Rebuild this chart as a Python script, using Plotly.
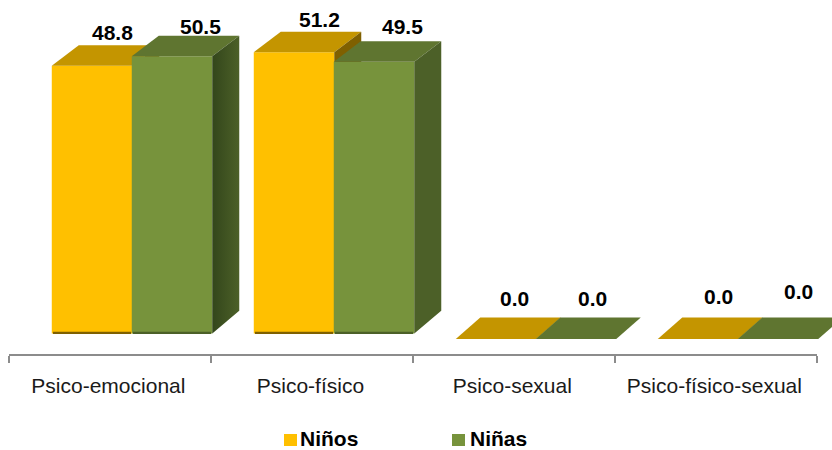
import plotly.graph_objects as go

categories = ["Psico-emocional", "Psico-físico", "Psico-sexual", "Psico-físico-sexual"]
ninos = [48.8, 51.2, 0.0, 0.0]
ninas = [50.5, 49.5, 0.0, 0.0]

# Layout constants (pixel geometry converted to data units)
W, H = 832, 450
L, R = 9, 817
AXIS_Y = 355
ZERO_Y = 339
PX_X = (R - L) / 4.0          # px per category
PX_Y = 5.6                    # px per value unit
FLOOR = 1.0                   # visible foot of the bars
BW = 80.5 / PX_X
OFFS = {"n": -0.089, "a": 0.307}


def px(p):
    return (p - L) / (W - L)


def py(p):
    return (AXIS_Y - p) / AXIS_Y


def depth(v):
    return (24.5 / PX_X, 21.5 / PX_Y) if v == 0 else (27 / PX_X, 20.5 / PX_Y)


series = [
    dict(name="Niños", vals=ninos, off=OFFS["n"], front="#FFC000", top="#C49500", side="#7F6000",
         dark="#7F6000", xa="x", ya="y"),
    dict(name="Niñas", vals=ninas, off=OFFS["a"], front="#77933C", top="#5F7530", side="#4C6028",
         dark="#33461B", xa="x2", ya="y2"),
]

fig = go.Figure()
for s in series:
    xs = [i + s["off"] for i in range(len(categories))]
    fig.add_trace(go.Bar(
        x=xs, y=[v - FLOOR if v > 0 else None for v in s["vals"]], base=FLOOR, width=BW,
        name=s["name"], marker=dict(color=s["front"], line=dict(width=0)),
        xaxis=s["xa"], yaxis=s["ya"], showlegend=False, hoverinfo="skip"))
    # darker foot of each bar
    fig.add_trace(go.Bar(
        x=xs, y=[0.4 if v > 0 else None for v in s["vals"]], base=FLOOR - 0.1, width=BW - 0.012,
        marker=dict(color=s["side"], line=dict(width=0)),
        xaxis=s["xa"], yaxis=s["ya"], showlegend=False, hoverinfo="skip"))
    for i, (x, v) in enumerate(zip(xs, s["vals"])):
        dx, dy = depth(v)
        x0, x1 = x - BW / 2, x + BW / 2
        # top face
        fig.add_trace(go.Scatter(
            x=[x0, x1, x1 + dx, x0 + dx, x0], y=[v, v, v + dy, v + dy, v],
            mode="lines", line=dict(width=0), fill="toself", fillcolor=s["top"],
            xaxis=s["xa"], yaxis=s["ya"], showlegend=False, hoverinfo="skip", cliponaxis=False))
        # side face
        if v > 0:
            tr = dict(
                x=[x1, x1 + dx, x1 + dx, x1, x1], y=[v, v + dy, FLOOR + dy * 1.1, FLOOR, v],
                mode="lines", line=dict(width=0), fill="toself", fillcolor=s["side"],
                xaxis=s["xa"], yaxis=s["ya"], showlegend=False, hoverinfo="skip", cliponaxis=False)
            if i == 0:
                tr["fillgradient"] = dict(type="horizontal", colorscale=[[0, s["dark"]], [1, s["side"]]])
            fig.add_trace(go.Scatter(**tr))

# Value labels
label_shift = {
    "Niños": [(20, 33), (25, 33), (18, 41), (20, 43)],
    "Niñas": [(28, 30), (28, 35), (16, 41), (20, 48)],
}
ann = []
for s in series:
    for i, v in enumerate(s["vals"]):
        sx, sy = label_shift[s["name"]][i]
        ann.append(dict(x=i + s["off"], y=v, xref="x", yref="y", text=f"<b>{v:.1f}</b>", showarrow=False,
                        xshift=sx, yshift=sy, font=dict(family="Liberation Sans", size=21, color="#000000")))

# Legend
legend_items = [("Niños", "#FFC000", 284, 300), ("Niñas", "#77933C", 452, 470)]
shapes = []
for name, col, sx, tx in legend_items:
    shapes.append(dict(type="rect", xref="paper", yref="paper",
                       x0=px(sx), x1=px(sx + 13), y0=py(446), y1=py(434),
                       fillcolor=col, line=dict(width=0)))
    ann.append(dict(x=px(tx), y=py(450), xref="paper", yref="paper",
                    xanchor="left", yanchor="bottom", showarrow=False, text=f"<b>{name}</b>",
                    borderpad=0, borderwidth=0,
                    font=dict(family="Liberation Sans", size=21, color="#000000")))

# Category axis line stops at the last boundary tick
boundaries = [-0.5, 0.5, 1.5, 2.5, 3.5]
shapes.append(dict(type="line", xref="x", yref="paper", x0=boundaries[0], x1=boundaries[-1], y0=0, y1=0,
                   line=dict(color="#8C8C8C", width=2)))

yr = [-(AXIS_Y - ZERO_Y) / PX_Y, ZERO_Y / PX_Y]
xr = [-0.5, -0.5 + (W - L) / PX_X]
ticks = dict(tickvals=boundaries, ticks="outside", ticklen=7, tickwidth=2, tickcolor="#8C8C8C")
fig.update_layout(
    width=W, height=H, autosize=False,
    margin=dict(l=L, r=0, t=0, b=H - AXIS_Y, pad=0),
    paper_bgcolor="#FFFFFF", plot_bgcolor="#FFFFFF",
    barmode="overlay", showlegend=False, annotations=ann, shapes=shapes,
    xaxis=dict(type="linear", range=xr, tickvals=[i - 0.008 for i in range(len(categories))], ticktext=categories,
               ticks="outside", ticklen=12, tickcolor="rgba(0,0,0,0)", tickwidth=1,
               minor=ticks, showgrid=False, zeroline=False, showline=False,
               tickfont=dict(family="Liberation Sans", size=21, color="#1A1A1A")),
    yaxis=dict(range=yr, visible=False, showgrid=False, zeroline=False),
    xaxis2=dict(range=xr, overlaying="x", visible=False, anchor="y2"),
    yaxis2=dict(range=yr, overlaying="y", visible=False, anchor="x2"),
)
fig.write_html("out.html", post_script="document.body.style.margin='0';", config={"displayModeBar": False})
